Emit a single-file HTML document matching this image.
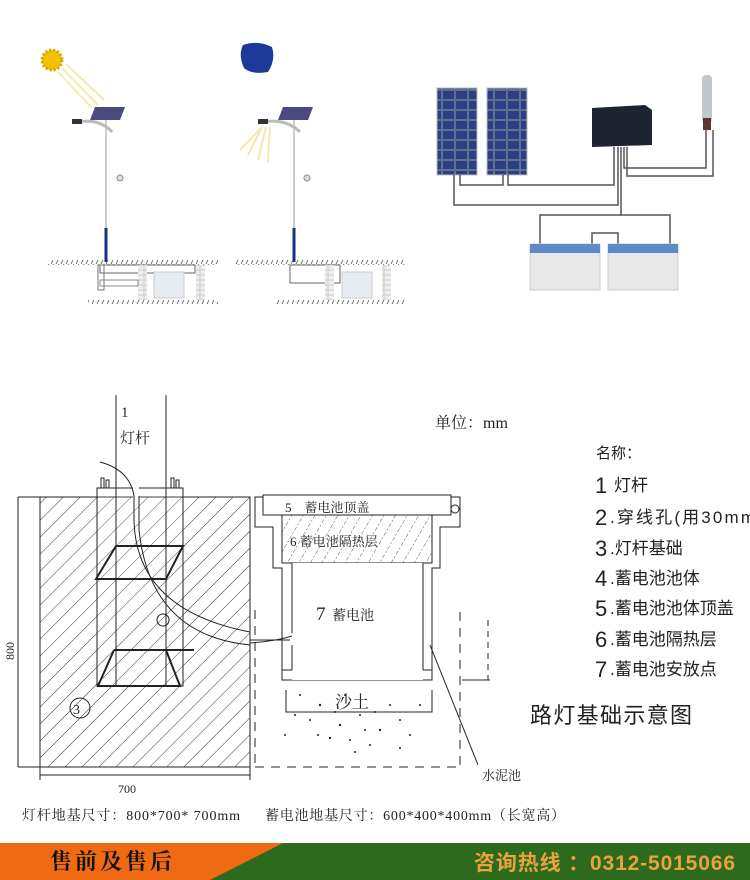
<!DOCTYPE html>
<html><head><meta charset="utf-8"><style>
body{margin:0;background:#fff;}
svg{display:block;}
text{font-family:"Liberation Sans","Noto Sans CJK SC",sans-serif;}
.s{font-family:"Liberation Serif","Noto Serif CJK SC",serif;}
</style></head><body>
<svg width="750" height="880" viewBox="0 0 750 880" xmlns="http://www.w3.org/2000/svg">
<defs>
<pattern id="h" width="12" height="12" patternUnits="userSpaceOnUse" patternTransform="rotate(45)">
<line x1="0" y1="0" x2="0" y2="12" stroke="#333" stroke-width="1"/></pattern>
<pattern id="hd" width="10" height="10" patternUnits="userSpaceOnUse" patternTransform="rotate(30)">
<line x1="0" y1="0" x2="0" y2="10" stroke="#555" stroke-width="1" stroke-dasharray="2,2"/></pattern>
<pattern id="cell" width="13" height="10" patternUnits="userSpaceOnUse">
<rect width="13" height="10" fill="#1f2f6a"/><rect x="0.5" y="0.5" width="12" height="9" fill="#2c3f85" stroke="#9aa" stroke-width="0.5"/></pattern>
<pattern id="gh" width="5" height="6" patternUnits="userSpaceOnUse">
<line x1="4" y1="0" x2="1" y2="6" stroke="#555" stroke-width="0.8"/></pattern>
<pattern id="brick" width="8" height="5" patternUnits="userSpaceOnUse">
<rect width="8" height="5" fill="#ccc"/><rect x="0.5" y="0.5" width="7" height="4" fill="#eee"/></pattern>
</defs>

<!-- TOP LEFT: day scene -->
<circle cx="52" cy="60" r="10" fill="#f2c200" stroke="#d9a000" stroke-width="3" stroke-dasharray="2,2"/>
<g stroke="#f0ecb0" stroke-width="2"><line x1="62" y1="68" x2="98" y2="105"/><line x1="66" y1="64" x2="104" y2="100"/><line x1="58" y1="72" x2="92" y2="108"/></g>
<polygon points="95,107 125,107 120,120 90,120" fill="#4a4a80"/>
<line x1="106" y1="120" x2="106" y2="228" stroke="#ccc" stroke-width="2"/>
<line x1="106" y1="228" x2="106" y2="262" stroke="#1a2f8a" stroke-width="3"/>
<path d="M76,122 Q100,118 112,132" stroke="#bbb" stroke-width="3" fill="none"/>
<rect x="72" y="119" width="10" height="5" fill="#333"/>
<circle cx="120" cy="178" r="3" fill="#ddd" stroke="#888"/>
<rect x="48" y="260" width="170" height="5" fill="url(#gh)"/>
<rect x="100" y="265" width="95" height="8" fill="none" stroke="#666"/>
<rect x="98" y="265" width="6" height="25" fill="none" stroke="#777"/>
<rect x="138" y="265" width="9" height="35" fill="url(#brick)"/>
<rect x="196" y="265" width="9" height="35" fill="url(#brick)"/>
<rect x="154" y="272" width="30" height="26" fill="#e7ecf2" stroke="#ccc"/>
<rect x="100" y="280" width="38" height="6" fill="none" stroke="#888"/>
<rect x="88" y="300" width="130" height="4" fill="url(#gh)"/>
<!-- night scene -->
<path d="M243,45 Q258,40 272,47 Q276,60 268,72 Q252,75 244,68 Q238,55 243,45Z" fill="#1d3a9a"/>
<polygon points="283,107 313,107 308,120 278,120" fill="#4a4a80"/>
<g stroke="#f0e8b0" stroke-width="2"><line x1="262" y1="127" x2="248" y2="155"/><line x1="266" y1="127" x2="258" y2="160"/><line x1="270" y1="127" x2="268" y2="162"/><line x1="262" y1="127" x2="240" y2="150"/></g>
<line x1="294" y1="120" x2="294" y2="228" stroke="#ccc" stroke-width="2"/>
<line x1="294" y1="228" x2="294" y2="262" stroke="#1a2f8a" stroke-width="3"/>
<path d="M262,122 Q286,118 300,132" stroke="#bbb" stroke-width="3" fill="none"/>
<rect x="258" y="119" width="10" height="5" fill="#333"/>
<circle cx="307" cy="178" r="3" fill="#ddd" stroke="#888"/>
<rect x="235" y="260" width="170" height="5" fill="url(#gh)"/>
<rect x="290" y="265" width="50" height="18" fill="none" stroke="#666"/>
<rect x="325" y="265" width="9" height="35" fill="url(#brick)"/>
<rect x="382" y="265" width="9" height="35" fill="url(#brick)"/>
<rect x="342" y="272" width="30" height="26" fill="#e7ecf2" stroke="#ccc"/>
<rect x="275" y="300" width="130" height="4" fill="url(#gh)"/>

<!-- TOP RIGHT system -->
<rect x="437" y="88" width="40" height="87" fill="url(#cell)" stroke="#bbb"/>
<rect x="487" y="88" width="40" height="87" fill="url(#cell)" stroke="#bbb"/>
<polygon points="592,108 645,105 652,110 652,145 592,147" fill="#1e2330"/>
<rect x="702" y="75" width="10" height="48" rx="4" fill="#bfc8cc"/>
<rect x="703" y="118" width="8" height="12" fill="#5a3a2a"/>
<g stroke="#555" stroke-width="1.5" fill="none">
<polyline points="460,175 460,185 503,185 503,175"/>
<polyline points="508,175 508,185 614,185 614,147"/>
<polyline points="454,175 454,205 618,205 618,147"/>
<polyline points="624,147 624,168 706,168 706,130"/>
<polyline points="627,147 627,176 713,176 713,130"/>
<polyline points="621,147 621,215 670,215 670,245"/>
<polyline points="621,215 540,215 540,245"/>
<polyline points="592,245 592,233 618,233 618,245"/>
</g>
<rect x="530" y="244" width="70" height="46" fill="#e8e8e8" stroke="#ccc"/>
<rect x="530" y="244" width="70" height="9" fill="#5d8ac8"/>
<rect x="608" y="244" width="70" height="46" fill="#e8e8e8" stroke="#ccc"/>
<rect x="608" y="244" width="70" height="9" fill="#5d8ac8"/>

<!-- BOTTOM DIAGRAM -->
<g stroke="#222" fill="none" stroke-width="1">
<rect x="40" y="497" width="210" height="270" fill="url(#h)"/>
<line x1="18" y1="497" x2="40" y2="497"/><line x1="18" y1="767" x2="40" y2="767"/>
<line x1="18" y1="497" x2="18" y2="767"/>
<line x1="40" y1="767" x2="40" y2="780"/><line x1="40" y1="775" x2="250" y2="775"/><line x1="250" y1="767" x2="250" y2="780"/>
<rect x="97" y="488" width="86" height="198" fill="#fff" fill-opacity="0.15"/>
<rect x="133" y="486" width="6" height="12" fill="#fff" stroke="none"/>
<line x1="116" y1="395" x2="116" y2="686"/><line x1="166" y1="395" x2="166" y2="686"/>
<g stroke-width="2"><polyline points="116,546 183,546 166,579 96,579 116,546"/>
<polyline points="114,650 194,650"/><polyline points="114,650 98,686 180,686 166,650"/></g>
<path d="M100,462 Q130,470 134,496 L134,520 Q136,610 250,632" stroke-width="1"/>
<path d="M139,496 L139,530 Q150,635 250,645"/>
<path d="M250,640 L290,640"/><path d="M250,643 Q290,640 305,630 L312,622"/>
<g stroke-width="1"><rect x="101" y="478" width="3" height="10"/><rect x="106" y="480" width="3" height="8"/><rect x="171" y="478" width="3" height="10"/><rect x="176" y="480" width="3" height="8"/></g>
<circle cx="80" cy="708" r="10"/><circle cx="163" cy="620" r="6"/>
<!-- battery pit -->
<rect x="263" y="495" width="188" height="20" fill="#fff"/>
<polyline points="263,497 255,497 255,527 273,527 273,568 282,568 282,680 432,680 432,568 440,568 440,527 460,527 460,497 451,497"/>
<rect x="282" y="515" width="150" height="48" fill="url(#hd)"/>
<rect x="292" y="563" width="131" height="117" fill="#fff" stroke="none"/>
<line x1="292" y1="563" x2="292" y2="633"/><line x1="292" y1="645" x2="292" y2="670"/>
<line x1="423" y1="563" x2="423" y2="670"/>
<line x1="292" y1="670" x2="282" y2="670"/>
<line x1="423" y1="670" x2="432" y2="670"/>
<g stroke-dasharray="9,7"><line x1="255" y1="610" x2="255" y2="767"/><line x1="460" y1="612" x2="460" y2="767"/><line x1="255" y1="767" x2="460" y2="767"/></g>
<line x1="462" y1="680" x2="490" y2="680"/><line x1="488" y1="620" x2="488" y2="680" stroke-dasharray="6,5"/>
<polyline points="286,690 286,712 432,712 432,690"/>
<line x1="430" y1="645" x2="478" y2="765"/>
<circle cx="455" cy="509" r="4"/>
</g>
<g fill="#222">
<circle cx="300" cy="695" r="1"/><circle cx="320" cy="705" r="1.2"/><circle cx="310" cy="720" r="1"/><circle cx="340" cy="725" r="1.2"/><circle cx="360" cy="715" r="1"/><circle cx="380" cy="730" r="1.2"/><circle cx="400" cy="720" r="1"/><circle cx="390" cy="705" r="1"/><circle cx="350" cy="740" r="1"/><circle cx="330" cy="738" r="1.2"/><circle cx="370" cy="745" r="1"/><circle cx="410" cy="735" r="1"/><circle cx="295" cy="715" r="1"/><circle cx="420" cy="705" r="1"/><circle cx="345" cy="695" r="1"/><circle cx="365" cy="730" r="1"/><circle cx="318" cy="735" r="1"/><circle cx="400" cy="748" r="1"/><circle cx="285" cy="735" r="1"/><circle cx="335" cy="712" r="1"/><circle cx="375" cy="712" r="1"/><circle cx="355" cy="752" r="1"/>
</g>
<g class="s" fill="#222" font-size="15">
<text x="121" y="417" class="s">1</text>
<text x="120" y="443" class="s">灯杆</text>
<text x="285" y="512" font-size="13" class="s">5　蓄电池顶盖</text>
<text x="290" y="546" font-size="13" class="s">6 蓄电池隔热层</text>
<text x="316" y="620" font-size="19" class="s">7</text><text x="332" y="620" font-size="14" class="s">蓄电池</text>
<text x="335" y="708" font-size="17" class="s">沙土</text>
<text x="482" y="780" font-size="13" class="s">水泥池</text>
<text x="118" y="793" font-size="12" class="s">700</text>
<text x="14" y="660" font-size="12" transform="rotate(-90 14 660)" class="s">800</text>
<text x="73" y="714" font-size="14" class="s">3</text>
<text x="22" y="820" font-size="14" class="s" textLength="218">灯杆地基尺寸：800*700* 700mm</text>
<text x="265" y="820" font-size="14" class="s" textLength="300">蓄电池地基尺寸：600*400*400mm（长宽高）</text>
<text x="435" y="428" font-size="16" class="s">单位：mm</text>
</g>
<g fill="#222" font-size="17">
<text x="596" y="458" font-size="15">名称：</text>
<text x="595" y="493" font-size="22">1</text><text x="614" y="491">灯杆</text>
<text x="595" y="525" font-size="22">2</text><text x="610" y="523" textLength="145">.穿线孔(用30mm</text>
<text x="595" y="556" font-size="22">3</text><text x="610" y="554">.灯杆基础</text>
<text x="595" y="586" font-size="22">4</text><text x="610" y="584">.蓄电池池体</text>
<text x="595" y="616" font-size="22">5</text><text x="610" y="614">.蓄电池池体顶盖</text>
<text x="595" y="647" font-size="22">6</text><text x="610" y="645">.蓄电池隔热层</text>
<text x="595" y="677" font-size="22">7</text><text x="610" y="675">.蓄电池安放点</text>
<text x="530" y="723" font-size="22" textLength="162">路灯基础示意图</text>
</g>

<!-- BANNER -->
<rect x="0" y="843" width="750" height="37" fill="#2d6a1e"/>
<polygon points="0,843 283,843 210,880 0,880" fill="#ef6a12"/>
<text x="50" y="869" font-size="22" font-weight="bold" fill="#111" class="s" textLength="122">售前及售后</text>
<text x="474" y="870" font-size="21" font-weight="bold" fill="#e9a33a" textLength="261">咨询热线 ：0312-5015066</text>
</svg>
</body></html>
